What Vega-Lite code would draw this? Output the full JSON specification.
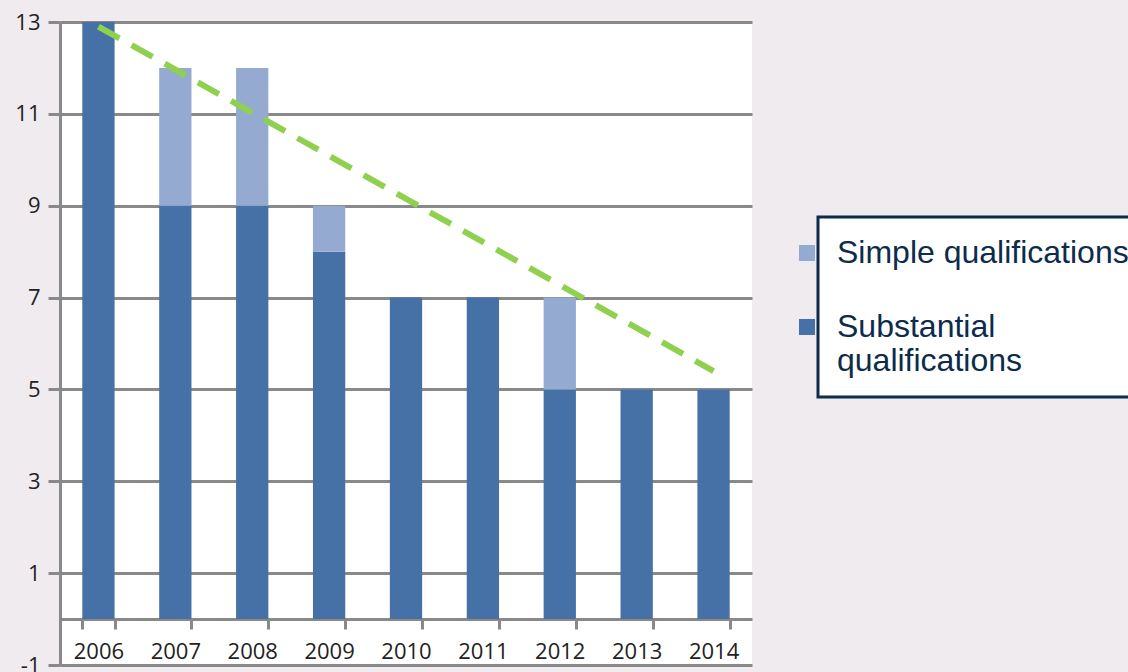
{
  "$schema": "https://vega.github.io/schema/vega-lite/v6.json",
  "width": 692,
  "height": 643,
  "autosize": {"type": "none"},
  "padding": {"left": 60, "top": 22, "right": 376, "bottom": 7},
  "background": "#efebef",
  "config": {
    "view": {"fill": "white", "stroke": null},
    "font": "Open Sans"
  },
  "datasets": {
    "bars": [
      {"year": "2006", "type": "Substantial qualifications", "count": 13},
      {"year": "2007", "type": "Substantial qualifications", "count": 9},
      {"year": "2007", "type": "Simple qualifications", "count": 3},
      {"year": "2008", "type": "Substantial qualifications", "count": 9},
      {"year": "2008", "type": "Simple qualifications", "count": 3},
      {"year": "2009", "type": "Substantial qualifications", "count": 8},
      {"year": "2009", "type": "Simple qualifications", "count": 1},
      {"year": "2010", "type": "Substantial qualifications", "count": 7},
      {"year": "2011", "type": "Substantial qualifications", "count": 7},
      {"year": "2012", "type": "Substantial qualifications", "count": 5},
      {"year": "2012", "type": "Simple qualifications", "count": 2},
      {"year": "2013", "type": "Substantial qualifications", "count": 5},
      {"year": "2014", "type": "Substantial qualifications", "count": 5}
    ],
    "trend": [
      {"year": "2006", "trend": 12.9},
      {"year": "2014", "trend": 5.4}
    ]
  },
  "encoding": {
    "x": {
      "field": "year",
      "type": "nominal",
      "scale": {"paddingInner": 0.58, "paddingOuter": 0.29},
      "axis": {
        "orient": "bottom",
        "offset": -46,
        "title": null,
        "domainColor": "#898989",
        "domainWidth": 3,
        "ticks": true,
        "tickBand": "extent",
        "tickSize": 10,
        "tickWidth": 3,
        "tickColor": "#898989",
        "labelFont": "Open Sans",
        "labelFontSize": 22,
        "labelColor": "#222222",
        "labelPadding": 12,
        "labelAngle": 0,
        "grid": false
      }
    }
  },
  "layer": [
    {
      "data": {"name": "bars"},
      "mark": {"type": "bar"},
      "encoding": {
        "y": {
          "field": "count",
          "type": "quantitative",
          "stack": "zero",
          "scale": {"domain": [-1, 13], "nice": false, "zero": false},
          "axis": {
            "title": null,
            "values": [-1, 1, 3, 5, 7, 9, 11, 13],
            "labelExpr": "replace(datum.label, '\u2212', '-')",
            "domainColor": "#898989",
            "domainWidth": 3,
            "tickColor": "#898989",
            "tickWidth": 3,
            "tickSize": 12,
            "grid": true,
            "gridColor": "#898989",
            "gridWidth": 3,
            "labelFont": "Open Sans",
            "labelFontSize": 22,
            "labelColor": "#222222",
            "labelPadding": 8
          }
        },
        "color": {
          "field": "type",
          "type": "nominal",
          "scale": {
            "domain": ["Simple qualifications", "Substantial qualifications"],
            "range": ["#95aad0", "#4671a6"]
          },
          "legend": {
            "title": null,
            "orient": "none",
            "legendX": 758,
            "legendY": 195,
            "strokeColor": "#0d2b4b",
            "fillColor": "white",
            "padding": 20,
            "symbolType": "square",
            "symbolSize": 256,
            "symbolStrokeWidth": 0,
            "symbolOpacity": 1,
            "symbolOffset": -47,
            "labelOffset": 14,
            "labelFont": "Liberation Sans",
            "labelFontSize": 32,
            "labelColor": "#0d2b4b",
            "labelLimit": 600,
            "rowPadding": 42,
            "labelExpr": "datum.label == 'Substantial qualifications' ? ['Substantial', 'qualifications'] : datum.label",
            "encode": {"legend": {"update": {"strokeWidth": {"value": 3}}}}
          }
        },
        "order": {"field": "type", "sort": "descending"}
      }
    },
    {
      "data": {"name": "trend"},
      "mark": {"type": "line", "color": "#8fd14f", "strokeWidth": 6, "strokeDash": [24, 14], "strokeCap": "butt"},
      "encoding": {
        "y": {"field": "trend", "type": "quantitative"}
      }
    }
  ]
}
